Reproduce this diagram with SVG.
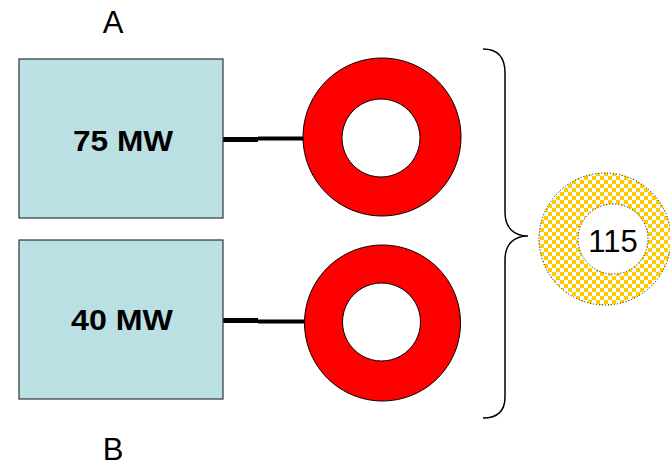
<svg xmlns="http://www.w3.org/2000/svg" width="670" height="467" viewBox="0 0 670 467">
<style>
.box{fill:#BBE0E3;stroke:#333;stroke-width:1.2}
.lbl{font-family:"Liberation Sans",Arial,sans-serif;font-weight:bold;font-size:30px;fill:#000;text-anchor:middle}
.cap{font-family:"Liberation Sans",Arial,sans-serif;font-size:31px;fill:#000;text-anchor:middle}
.ring{fill:#FF0000;fill-rule:evenodd;stroke:#000;stroke-width:1}
.conn{stroke:#000;fill:none}
</style>
<defs>
<pattern id="chk" width="8" height="8" patternUnits="userSpaceOnUse">
<rect width="8" height="8" fill="#fff"/>
<rect width="4" height="4" fill="#FFCC00"/>
<rect x="4" y="4" width="4" height="4" fill="#FFCC00"/>
</pattern>
</defs>
<rect width="670" height="467" fill="#fff"/>
<text class="cap" x="113" y="33">A</text>
<text class="cap" x="113" y="460" font-size="29">B</text>
<g id="connectors">
<path class="conn" d="M223,139.5 H258" stroke-width="5"/>
<path class="conn" d="M258,138.5 H304" stroke-width="4"/>
<path class="conn" d="M223,320.5 H258" stroke-width="5"/>
<path class="conn" d="M258,321.5 H304" stroke-width="4"/>
<path class="conn" d="M483,49 C499,49 505,58 505,73 L505,212 C505,228 514,236 528,236 C514,236 505,244 505,260 L505,397 C505,410 499,418 483,418" stroke-width="1.5"/>
</g>
<g id="box75">
<rect class="box" x="19" y="59" width="204" height="159"/>
<text class="lbl" x="123" y="151" textLength="100" lengthAdjust="spacingAndGlyphs">75 MW</text>
</g>
<g id="box40">
<rect class="box" x="19" y="240" width="204" height="159"/>
<text class="lbl" x="122" y="330" textLength="102" lengthAdjust="spacingAndGlyphs">40 MW</text>
</g>
<g id="ring1">
<path class="ring" d="M382,58 a79,79 0 1,0 0.01,0 Z M381,99 a39,39 0 1,0 0.01,0 Z"/>
</g>
<g id="ring2">
<path class="ring" d="M382.5,245 a78,78 0 1,0 0.01,0 Z M381.5,283 a39,39 0 1,0 0.01,0 Z"/>
</g>
<g id="total">
<path d="M605,173 a66,66 0 1,0 0.01,0 Z M613,204 a35,35 0 1,0 0.01,0 Z" fill="url(#chk)" fill-rule="evenodd" stroke="#000" stroke-width="1" stroke-dasharray="1 2"/>
<text class="cap" x="613" y="252" font-size="34">115</text>
</g>
</svg>
